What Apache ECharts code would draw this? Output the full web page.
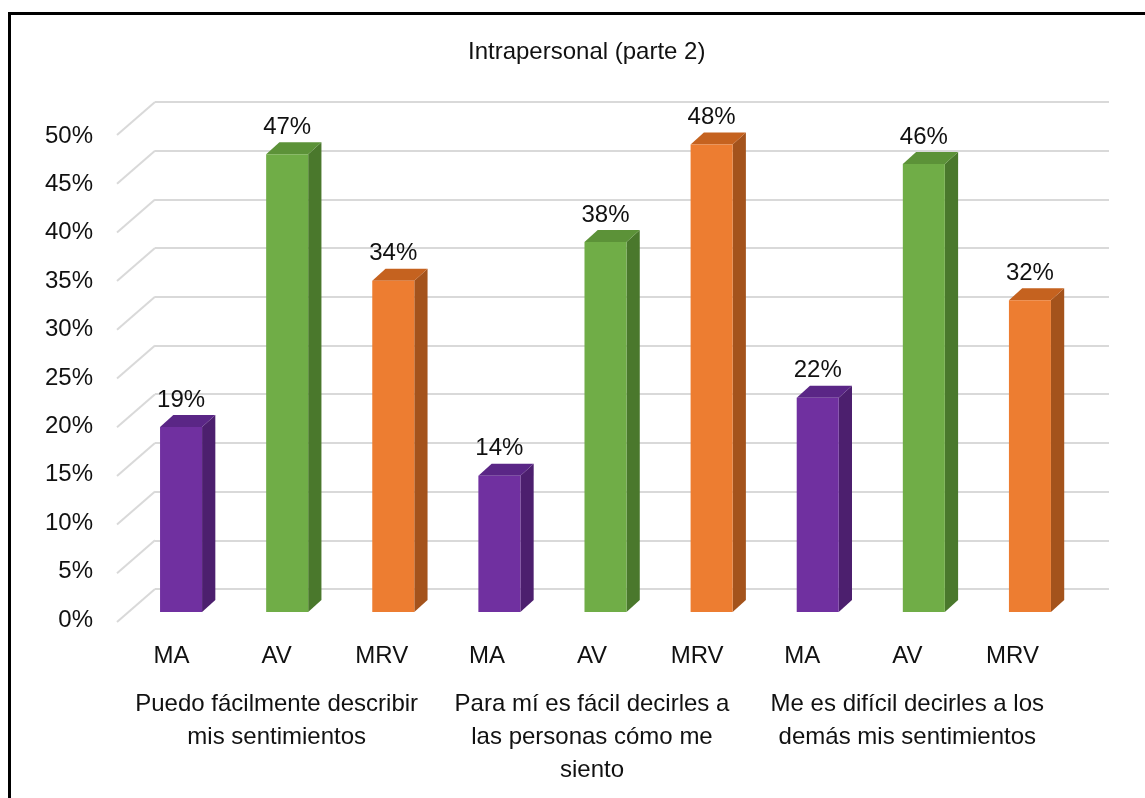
<!DOCTYPE html>
<html>
<head>
<meta charset="utf-8">
<script src="https://cdn.jsdelivr.net/npm/echarts@6/dist/echarts.min.js"></script>
<style>
  html, body { margin: 0; padding: 0; background: #fff; }
  #chart { width: 1145px; height: 798px; }
</style>
</head>
<body>
<div id="chart"></div>
<script>
// data
const categories = ['MA', 'AV', 'MRV', 'MA', 'AV', 'MRV', 'MA', 'AV', 'MRV'];
const groups = [
  'Puedo fácilmente describir\nmis sentimientos',
  'Para mí es fácil decirles a\nlas personas cómo me\nsiento',
  'Me es difícil decirles a los\ndemás mis sentimientos'
];
const values = [19, 47, 34, 14, 38, 48, 22, 46, 32];
const yTicks = [0, 5, 10, 15, 20, 25, 30, 35, 40, 45, 50];

// front / side / top shades per answer type
const palette = {
  MA:  ['#7030A0', '#4C1F6E', '#5A2686'],
  AV:  ['#70AD47', '#4A782C', '#5C9238'],
  MRV: ['#ED7D31', '#A4531C', '#C5621F']
};

const FONT = "'Liberation Sans', Arial, sans-serif";
const TXT = '#111';

const chart = echarts.init(document.getElementById('chart'));

const option = {
  animation: false,
  backgroundColor: '#fff',
  title: {
    text: 'Intrapersonal (parte 2)',
    left: 463,
    top: 35,
    textStyle: { fontFamily: FONT, fontSize: 24, fontWeight: 'normal', color: TXT }
  },
  graphic: [{
    type: 'rect',
    shape: { x: 9.5, y: 13.5, width: 2000, height: 2000 },
    style: { fill: 'none', stroke: '#000', lineWidth: 3 },
    silent: true
  }],
  grid: [
    // back wall
    { left: 155, right: 36, top: 102, bottom: 209, outerBoundsMode: 'none' },
    // bars
    { left: 128, right: 62, top: 125, bottom: 186, outerBoundsMode: 'none' },
    // front labels
    { left: 119, right: 80, top: 136, bottom: 178, outerBoundsMode: 'none' }
  ],
  xAxis: [
    { gridIndex: 0, type: 'value', min: 0, max: 1, show: false },
    { gridIndex: 1, type: 'category', data: categories, show: false },
    {
      gridIndex: 2, type: 'category', data: categories, position: 'bottom',
      axisLine: { show: false }, axisTick: { show: false },
      axisLabel: { margin: 24, fontFamily: FONT, fontSize: 24, color: TXT }
    },
    {
      gridIndex: 2, type: 'category', data: groups, position: 'bottom',
      axisLine: { show: false }, axisTick: { show: false },
      axisLabel: { margin: 68, fontFamily: FONT, fontSize: 24, lineHeight: 33, color: TXT, interval: 0 }
    }
  ],
  yAxis: [
    {
      gridIndex: 0, type: 'value', min: 0, max: 50, interval: 5,
      axisLine: { show: false }, axisTick: { show: false }, axisLabel: { show: false },
      splitLine: { lineStyle: { color: '#D9D9D9', width: 2 } }
    },
    { gridIndex: 1, type: 'value', min: 0, max: 50, show: false },
    {
      gridIndex: 2, type: 'value', min: 0, max: 50, interval: 5,
      axisLine: { show: false }, axisTick: { show: false }, splitLine: { show: false },
      axisLabel: { margin: 26, fontFamily: FONT, fontSize: 24, color: TXT, formatter: '{value}%' }
    }
  ],
  series: [
    {
      // slanted side-wall lines joining the front labels to the back gridlines
      type: 'custom',
      xAxisIndex: 0, yAxisIndex: 0,
      silent: true,
      data: yTicks.map(v => [0, v]),
      renderItem: (params, api) => {
        const p = api.coord([0, api.value(1)]);
        return {
          type: 'line',
          shape: { x1: p[0], y1: p[1], x2: p[0] - 38, y2: p[1] + 33 },
          style: { stroke: '#D9D9D9', lineWidth: 2 }
        };
      }
    },
    {
      type: 'custom',
      xAxisIndex: 1, yAxisIndex: 1,
      data: values.map((v, i) => [i, v]),
      renderItem: (params, api) => {
        const idx = api.value(0);
        const val = api.value(1);
        const top = api.coord([idx, val]);
        const base = api.coord([idx, 0]);
        const band = api.size([1, 0])[0];
        const w = band * 0.396;
        const dx = band * 0.125;
        const dy = 12;
        const x0 = top[0] - w / 2;
        const x1 = top[0] + w / 2;
        const c = palette[categories[idx]];
        return {
          type: 'group',
          children: [
            {
              type: 'polygon',
              shape: { points: [[x1, top[1]], [x1 + dx, top[1] - dy], [x1 + dx, base[1] - dy], [x1, base[1]]] },
              style: { fill: c[1] }
            },
            {
              type: 'polygon',
              shape: { points: [[x0, top[1]], [x0 + dx, top[1] - dy], [x1 + dx, top[1] - dy], [x1, top[1]]] },
              style: { fill: c[2] }
            },
            {
              type: 'rect',
              shape: { x: x0, y: top[1], width: w, height: base[1] - top[1] },
              style: { fill: c[0] }
            },
            {
              type: 'text',
              style: {
                text: val + '%',
                x: top[0],
                y: top[1] - 27,
                align: 'center',
                verticalAlign: 'middle',
                fontFamily: FONT,
                fontSize: 24,
                fill: TXT
              }
            }
          ]
        };
      }
    }
  ]
};

chart.setOption(option);
window.addEventListener('resize', () => chart.resize());
</script>
</body>
</html>
